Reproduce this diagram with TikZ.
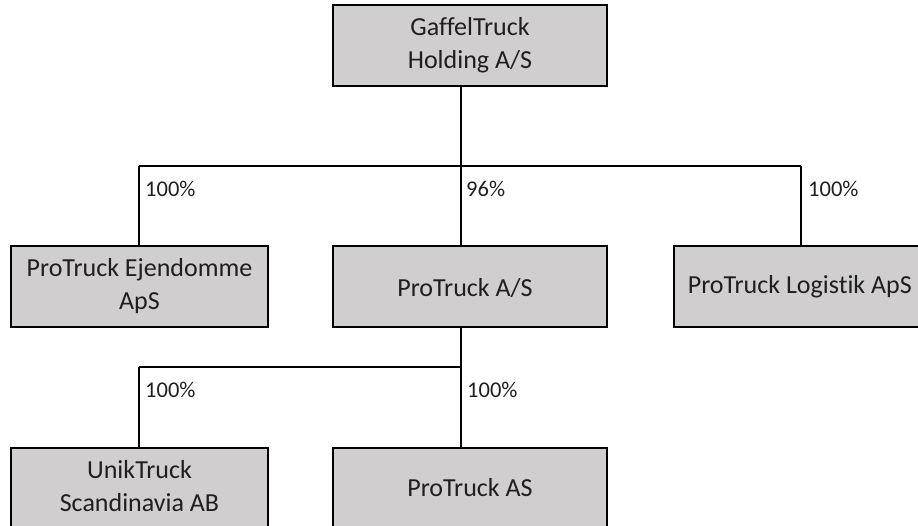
\documentclass[tikz,border=0pt]{standalone}
\usepackage{fontspec}
\setmainfont{Carlito}[Ligatures=NoCommon]
\definecolor{boxfill}{RGB}{208,206,206}
\begin{document}
\begin{tikzpicture}[x=1pt,y=-1pt,
  boxfont/.style={font=\fontsize{26}{33}\selectfont, text=black!88},
  orgbox/.style={draw=black, line width=1.6pt, fill=boxfill, minimum width=274pt, minimum height=81pt,
    inner sep=0pt, align=center, boxfont},
  boxtext/.style={anchor=center, inner sep=0pt, align=center, boxfont},
  pct/.style={anchor=base west, inner sep=0pt, font=\fontsize{22.5}{26}\selectfont, text=black!88},
  conn/.style={line width=1.4pt, draw=black}]
\useasboundingbox (0,0) rectangle (918,526);
\clip (0,0) rectangle (918,526);
\coordinate (tb) at (461,86);
\coordinate (bus1) at (461,166);
\coordinate (l1) at (139,166);
\coordinate (r1) at (801,166);
\coordinate (mb) at (461,327);
\coordinate (bus2) at (461,367);
\coordinate (l2) at (139,367);
\node[orgbox] (top) at (470,45.5) {GaffelTruck\\Holding A/S};
\node[orgbox, minimum width=257pt] (eje) at (139.5,286.5) {ProTruck Ejendomme\\ApS};
\node[orgbox] (pro) at (470,286.5) {};
\node[boxtext] (prot) at (465,288) {ProTruck A/S};
\node[orgbox, minimum width=0pt, inner xsep=14pt, anchor=west] (log) at (673,286.5) {ProTruck Logistik ApS};
\node[orgbox, minimum width=257pt, minimum height=100pt, anchor=north] (unik) at (139.5,447) {};
\node[orgbox, minimum height=100pt, anchor=north] (pas) at (470,447) {};
\node[boxtext] (unikt) at (139.5,486) {UnikTruck\\Scandinavia AB};
\node[boxtext] (past) at (470,488) {ProTruck AS};
\draw[conn] (top.south -| tb) -- (bus1);
\draw[conn] (l1) -- (r1);
\draw[conn] (l1) -- (l1 |- eje.north);
\draw[conn] (bus1) -- (bus1 |- pro.north);
\draw[conn] (r1) -- (r1 |- log.north);
\draw[conn] (pro.south -| mb) -- (bus2);
\draw[conn] (l2) -- (bus2);
\draw[conn] (l2) -- (l2 |- unik.north);
\draw[conn] (bus2) -- (bus2 |- pas.north);
\node[pct] (p1) at (145,197) {100\%};
\node[pct] (p2) at (466,197) {96\%};
\node[pct] (p3) at (808,197) {100\%};
\node[pct] (p4) at (145,397) {100\%};
\node[pct] (p5) at (467,397) {100\%};
\end{tikzpicture}
\end{document}
